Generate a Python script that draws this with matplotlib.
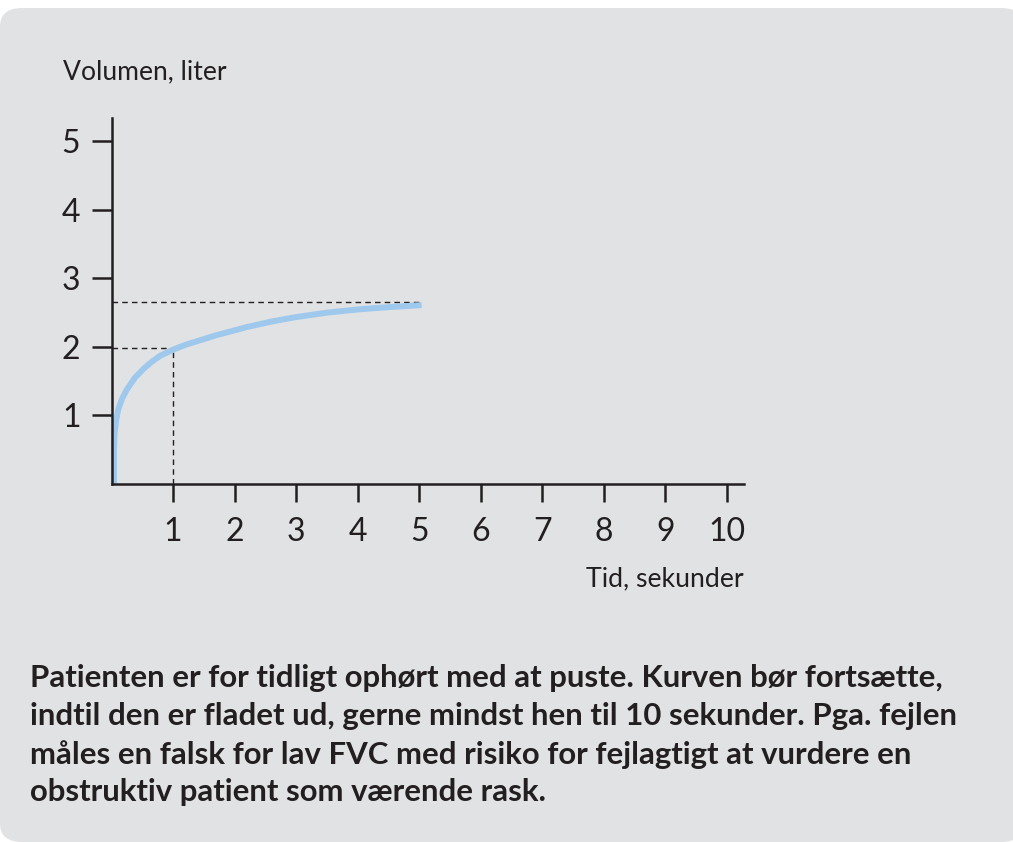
import matplotlib.pyplot as plt
from matplotlib.patches import FancyBboxPatch

plt.rcParams['font.family'] = ['Lato', 'DejaVu Sans']

# data
tid = [0.04, 0.04, 0.05, 0.08, 0.11, 0.17, 0.25, 0.38, 0.52, 0.65, 0.79, 1.0, 1.2, 1.45, 1.7, 1.95, 2.2, 2.6, 2.96, 3.5, 4.04, 4.5, 5.04]
volumen = [0.0, 0.5, 0.75, 0.95, 1.09, 1.24, 1.38, 1.55, 1.68, 1.78, 1.87, 1.96, 2.03, 2.10, 2.17, 2.23, 2.29, 2.37, 2.43, 2.50, 2.55, 2.58, 2.61]
fvc_slut = 2.66
fev1 = 1.98
x_ticks = [1, 2, 3, 4, 5, 6, 7, 8, 9, 10]
y_ticks = [1, 2, 3, 4, 5]

tekst = ("Patienten er for tidligt ophørt med at puste. Kurven bør fortsætte,\n"
         "indtil den er fladet ud, gerne mindst hen til 10 sekunder. Pga. fejlen\n"
         "måles en falsk for lav FVC med risiko for fejlagtigt at vurdere en\n"
         "obstruktiv patient som værende rask.")

ink = '#231f20'
bg = '#e1e2e4'

fig = plt.figure(figsize=(10.13, 8.42), dpi=100)
fig.patch.set_facecolor('white')

# grå baggrund med runde hjørner
W, H = 1013, 842
panel = FancyBboxPatch((0, 0), 1013 / W + 0.01, (842 - 8) / H,
                       boxstyle='round,pad=0,rounding_size=0.022',
                       transform=fig.transFigure, facecolor=bg, edgecolor='none', zorder=-1)
fig.add_artist(panel)

ax = fig.add_axes([111.5 / W, 1 - 484 / H, (744 - 111.5) / W, (484 - 118) / H])
ax.set_zorder(1)
ax.set_facecolor('none')
ax.set_xlim(0, 10.28)
ax.set_ylim(0, 5.34)

ax.plot(tid, volumen, color='#9ec9ed', lw=4.3, solid_capstyle='butt', solid_joinstyle='round',
        zorder=3, clip_on=False)

# stiplede hjælpelinjer
ax.plot([0, tid[-1]], [fvc_slut, fvc_slut], color=ink, lw=1.0, ls=(0, (4, 3)), zorder=2)
ax.plot([0, 1], [fev1, fev1], color=ink, lw=1.0, ls=(0, (4, 3)), zorder=2)
ax.plot([1, 1], [0, fev1], color=ink, lw=1.0, ls=(0, (4, 3)), zorder=2)

for s in ['top', 'right']:
    ax.spines[s].set_visible(False)
for s in ['left', 'bottom']:
    ax.spines[s].set_color(ink)
    ax.spines[s].set_linewidth(1.8)
    ax.spines[s].set_zorder(4)

ax.set_xticks(x_ticks)
ax.set_yticks(y_ticks)
ax.tick_params(axis='x', length=13, width=1.8, color=ink, labelcolor=ink, labelsize=23, pad=11)
ax.tick_params(axis='y', length=14.4, width=1.8, color=ink, labelcolor=ink, labelsize=23, pad=8)

fig.text(63 / W, 1 - 72 / H, 'Volumen, liter', fontsize=19.1, color=ink, va='center', ha='left')
fig.text(744 / W, 1 - 579 / H, 'Tid, sekunder', fontsize=19.2, color=ink, va='center', ha='right')

fig.text(30 / W, 1 - 664 / H, tekst, fontsize=22.4, fontweight='bold', color=ink,
         va='top', ha='left', linespacing=1.42)

fig.savefig('out.png', dpi=100, facecolor='white')
